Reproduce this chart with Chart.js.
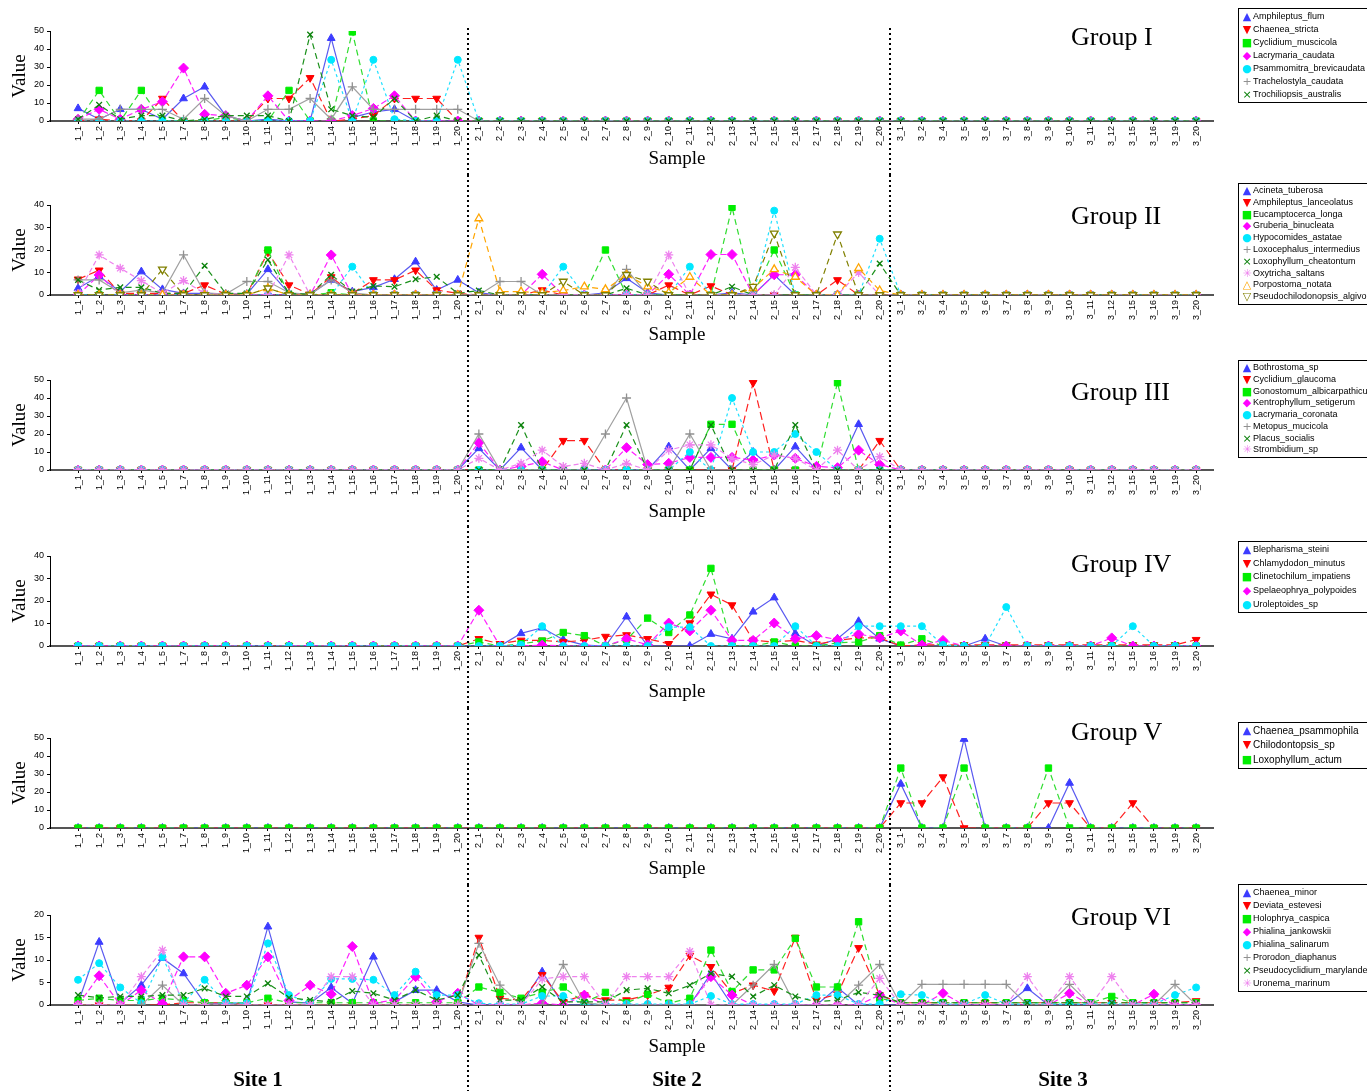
<!DOCTYPE html>
<html>
<head>
<meta charset="utf-8">
<script src="https://cdn.jsdelivr.net/npm/chart.js@4.4.1/dist/chart.umd.min.js"></script>
<style>
  body { margin: 0; background: #fff; }
  #wrap { position: relative; width: 1367px; height: 1091px; overflow: hidden; background: #fff; }
  #wrap canvas { position: absolute; left: 0; }
  .grp { position: absolute; left: 1071px; font: 26px "Liberation Serif", "Times New Roman", serif; line-height: 1; white-space: nowrap; }
  .sample { position: absolute; left: 577px; width: 200px; text-align: center; font: 19px "Liberation Serif", serif; line-height: 1; }
  .site { position: absolute; top: 1069px; width: 200px; text-align: center; font: bold 21px "Liberation Serif", serif; line-height: 1; }
  .legend { position: absolute; left: 1238px; width: 150px; border: 1px solid #000; padding: 1px 0 1px 2px; font: 9px "Liberation Sans", Arial, sans-serif; background: #fff; }
  .legend div { white-space: nowrap; overflow: hidden; }
  .legend span { display: inline-block; width: 12px; text-align: center; font-family: "DejaVu Sans", sans-serif; font-size: 11px; vertical-align: top; }
</style>
</head>
<body>
<div id="wrap"></div>
<script>
// sample labels
const site1Labels = ['1_1','1_2','1_3','1_4','1_5','1_7','1_8','1_9','1_10','1_11','1_12','1_13','1_14','1_15','1_16','1_17','1_18','1_19','1_20'];
const site2Labels = ['2_1','2_2','2_3','2_4','2_5','2_6','2_7','2_8','2_9','2_10','2_11','2_12','2_13','2_14','2_15','2_16','2_17','2_18','2_19','2_20'];
const site3Labels = ['3_1','3_2','3_4','3_5','3_6','3_7','3_8','3_9','3_10','3_11','3_12','3_15','3_16','3_19','3_20'];
const sampleLabels = site1Labels.concat(site2Labels, site3Labels);

const groupNames = ['Group I', 'Group II', 'Group III', 'Group IV', 'Group V', 'Group VI'];
const siteNames = ['Site 1', 'Site 2', 'Site 3'];

// Group I
const g1Names = ['Amphileptus_flum','Chaenea_stricta','Cyclidium_muscicola','Lacrymaria_caudata','Psammomitra_brevicaudata','Trachelostyla_caudata','Trochiliopsis_australis'];
const g1Amphileptus = [7,1,6.5,6.5,1,12.5,19,3,0,1,0,0,46,2,5,6.5,0,0,0, 0,0,0,0,0,0,0,0,0,0,0,0,0,0,0,0,0,0,0,0, 0,0,0,0,0,0,0,0,0,0,0,0,0,0,0];
const g1Chaenea = [0,1,0,0,12.5,0,0,0,0,12.5,12.5,24,0,1,3,12.5,12.5,12.5,0, 0,0,0,0,0,0,0,0,0,0,0,0,0,0,0,0,0,0,0,0, 0,0,0,0,0,0,0,0,0,0,0,0,0,0,0];
const g1Cyclidium = [0,17,0,17,0,0,0,2,0,0,17,0,0,49.5,0,0,0,0,0, 0,0,0,0,0,0,0,0,0,0,0,0,0,0,0,0,0,0,0,0, 0,0,0,0,0,0,0,0,0,0,0,0,0,0,0];
const g1Lacrymaria = [1,6.5,1,6.5,10.7,29.4,3.7,3,0,14,0,0,0,3,7,14,0,0,0, 0,0,0,0,0,0,0,0,0,0,0,0,0,0,0,0,0,0,0,0, 0,0,0,0,0,0,0,0,0,0,0,0,0,0,0];
const g1Psammomitra = [0,0,0,0,0,0,0,0,0,0,0,0,34,0,34,1,0,0,34, 0,0,0,0,0,0,0,0,0,0,0,0,0,0,0,0,0,0,0,0, 0,0,0,0,0,0,0,0,0,0,0,0,0,0,0];
const g1Trachelostyla = [1,1,6.5,6.5,6.5,1,12.5,3,0,6.5,6.5,12.5,1,19,6.5,6.5,6.5,6.5,6.5, 0,0,0,0,0,0,0,0,0,0,0,0,0,0,0,0,0,0,0,0, 0,0,0,0,0,0,0,0,0,0,0,0,0,0,0];
const g1Trochiliopsis = [1,9,1,3,3,0,1,3,3,3,0,48,6.5,3,2,12.5,0,3,0, 0,0,0,0,0,0,0,0,0,0,0,0,0,0,0,0,0,0,0,0, 0,0,0,0,0,0,0,0,0,0,0,0,0,0,0];

// Group II
const g2Names = ['Acineta_tuberosa','Amphileptus_lanceolatus','Eucamptocerca_longa','Gruberia_binucleata','Hypocomides_astatae','Loxocephalus_intermedius','Loxophyllum_cheatontum','Oxytricha_saltans','Porpostoma_notata','Pseudochilodonopsis_algivora'];
const g2Acineta = [3,8.4,1.5,10.4,2.5,0.7,0.7,0.4,0.4,11.4,0.7,0.3,6.7,1.5,3.4,7,14.8,2.2,6.7, 1,0,0,0,0,0,1,7.4,1,0,0,0,1,0,9,0,0,0,0,0, 0,0,0,0,0,0,0,0,0,0,0,0,0,0,0];
const g2Amphileptus = [7,11,0.7,0.7,0.7,0.7,4.4,0.3,0.3,19,4.4,0.3,8,0.7,6.7,6.7,11,2.2,0.7, 0,0,0,2.2,0,0,0,0,0,4.4,0,4,0,0,0,0,0,6.7,0,0, 0,0,0,0,0,0,0,0,0,0,0,0,0,0,0];
const g2Eucamptocerca = [0,0,0,0,0,0,0,0,0,20,0,0,1,0,0,0,0,0,0, 0,0,0,0,0,0,20,0,0,0,0,0,39,0,20,0,0,0,0,0, 0,0,0,0,0,0,0,0,0,0,0,0,0,0,0];
const g2Gruberia = [0,8.9,0,0,0,0,0,0,0,0,0,0,17.8,0,0,0,0,0,0, 0,0,0,9.2,0,0,0,0,0,9.2,0,18,18,0,9,9,0,0,0,0, 0,0,0,0,0,0,0,0,0,0,0,0,0,0,0];
const g2Hypocomides = [0,0,0,0,0,0,0,0,0,0,0,0,0,12.6,0,0,0,0,0, 0,0,0,0,12.6,0,0,0,0,0,12.6,0,0,0,37.5,0,0,0,0,25, 0,0,0,0,0,0,0,0,0,0,0,0,0,0,0];
const g2Loxocephalus = [6.7,6.7,1,2.2,1,17.8,1,0.4,6,6,1,0.3,6.7,1,0,0,0,0,0, 0,6,6,0,0,0,0,11.4,0,0,0,0,0,0,0,0,0,0,0,0, 0,0,0,0,0,0,0,0,0,0,0,0,0,0,0];
const g2Loxophyllum = [6.7,2.2,3.4,3.4,0.7,0.7,13,0.7,0.7,15.6,0.7,0.3,9,1.5,4,3.7,7,8.1,0.7, 2,0,0,0,0,0,0,3,0,0,0,0,3.7,0,0,0,0,0,0,14, 0,0,0,0,0,0,0,0,0,0,0,0,0,0,0];
const g2Oxytricha = [0.7,17.8,11.9,6.4,0.7,6.4,0.7,0,0,0,17.8,0,0,0,0,0,0,0,0, 0,0,0,0,0,0,0,0,0,17.8,0,0,0,0,0,12.3,0,0,10,0, 0,0,0,0,0,0,0,0,0,0,0,0,0,0,0];
const g2Porpostoma = [0,0,0,0,0,0,0,0,0,3,0,0,0,0,0,0,0,0,0, 34,1.5,1.5,1,2,3.7,2.5,9,3.7,1,8,0,0,3,11.4,8,0,0,11.9,2, 0,0,0,0,0,0,0,0,0,0,0,0,0,0,0];
const g2Pseudochilodonopsis = [0,0,0,0,11.4,0,0,0,0,3,0,0,0,0,0,0,0,0,0, 0,0,0,0,6,0,0,9,6,0,0,0,0,3.7,27.4,0,0,27,0,0, 0,0,0,0,0,0,0,0,0,0,0,0,0,0,0];

// Group III
const g3Names = ['Bothrostoma_sp','Cyclidium_glaucoma','Gonostomum_albicarpathicum','Kentrophyllum_setigerum','Lacrymaria_coronata','Metopus_mucicola','Placus_socialis','Strombidium_sp'];
const g3Bothrostoma = [0,0,0,0,0,0,0,0,0,0,0,0,0,0,0,0,0,0,0, 12,0,12.4,0,0,0,0,0,0,13,0,12,0,10,0,13,0,0,25.4,0, 0,0,0,0,0,0,0,0,0,0,0,0,0,0,0];
const g3Cyclidium = [0,0,0,0,0,0,0,0,0,0,0,0,0,0,0,0,0,0,0, 0,0,0,0,16.3,16.3,0,0,0,0,0,0,0,48.5,0,0,0,0,0,16.3, 0,0,0,0,0,0,0,0,0,0,0,0,0,0,0];
const g3Gonostomum = [0,0,0,0,0,0,0,0,0,0,0,0,0,0,0,0,0,0,0, 0,0,0,0,0,0,0,0,0,0,0,25.4,25.4,0,0,0,0,48.5,0,0, 0,0,0,0,0,0,0,0,0,0,0,0,0,0,0];
const g3Kentrophyllum = [0,0,0,0,0,0,0,0,0,0,0,0,0,0,0,0,0,0,0, 15.2,0,2,4.6,0,0,0,12.4,3,3.7,7,7,7,5.5,8.3,6.5,2,1.3,11,3, 0,0,0,0,0,0,0,0,0,0,0,0,0,0,0];
const g3Lacrymaria = [0,0,0,0,0,0,0,0,0,0,0,0,0,0,0,0,0,0,0, 0,0,0,0,0,0,0,0,0,0,10,0,40,10,10,20,10,0,0,0, 0,0,0,0,0,0,0,0,0,0,0,0,0,0,0];
const g3Metopus = [0,0,0,0,0,0,0,0,0,0,0,0,0,0,0,0,0,0,0, 20,0,0,0,0,0,20,40,0,0,20,0,0,0,0,0,0,0,0,0, 0,0,0,0,0,0,0,0,0,0,0,0,0,0,0];
const g3Placus = [0,0,0,0,0,0,0,0,0,0,0,0,0,0,0,0,0,0,0, 0,0,25,0,0,0,0,25,0,0,0,25,0,0,0,25,0,0,0,0, 0,0,0,0,0,0,0,0,0,0,0,0,0,0,0];
const g3Strombidium = [0,0,0,0,0,0,0,0,0,0,0,0,0,0,0,0,0,0,0, 6.5,0,3.7,11,2,3.7,0,3.7,0,11,14,14,6.5,3,8.3,6.5,0,11,0,7.4, 0,0,0,0,0,0,0,0,0,0,0,0,0,0,0];

// Group IV
const g4Names = ['Blepharisma_steini','Chlamydodon_minutus','Clinetochilum_impatiens','Spelaeophrya_polypoides','Uroleptoides_sp'];
const g4Blepharisma = [0,0,0,0,0,0,0,0,0,0,0,0,0,0,0,0,0,0,0, 0,0,5.6,8.1,2.8,0.4,0,13,0,0,0,5.3,3.2,15.2,21.5,5.6,0,3.2,11,3.2, 0,0,0,0,3.2,0,0,0,0,0,0,0,0,0,0];
const g4Chlamydodon = [0,0,0,0,0,0,0,0,0,0,0,0,0,0,0,0,0,0,0, 3.2,1,2.5,2.5,1.8,2.5,4.2,4.9,3.2,1,10.2,23,18.2,2.5,1.8,2.5,0.8,2.5,3.6,3.6, 0,0.5,0.5,0.5,0.5,0.5,0.5,0.5,0.5,0.5,0.5,0.5,0.5,0.5,2.8];
const g4Clinetochilum = [0,0,0,0,0,0,0,0,0,0,0,0,0,0,0,0,0,0,0, 1.8,0,1,2.2,6,4.6,0,2.8,12.4,6,13.8,34.5,0,0,1.8,0,0,1.4,1.8,4.6, 0.4,3.2,0,0,0,0,0,0,0,0,0,0,0,0,0];
const g4Spelaeophrya = [0,0,0,0,0,0,0,0,0,0,0,0,0,0,0,0,0,0,0, 15.9,0,0,0.4,0,0,0,3.2,0.5,10.2,6.7,15.9,2.5,2.5,10.2,3.2,4.6,2.8,5.3,3.6, 6.7,0.4,2.5,0,0,0,0,0,0,0,3.6,0,0,0,0];
const g4Uroleptoides = [0,0,0,0,0,0,0,0,0,0,0,0,0,0,0,0,0,0,0, 0,0,0.5,8.8,0,0,0,0,0,8.4,8.4,0,0,0,0,8.8,0,0,8.8,8.8, 8.8,8.8,0.5,0,0,17.3,0,0,0,0,0,8.8,0,0,0];

// Group V
const g5Names = ['Chaenea_psammophila','Chilodontopsis_sp','Loxophyllum_actum'];
const g5Chaenea = [0,0,0,0,0,0,0,0,0,0,0,0,0,0,0,0,0,0,0, 0,0,0,0,0,0,0,0,0,0,0,0,0,0,0,0,0,0,0,0, 24.5,0,0,49.4,0,0,0,0,25,0,0,0,0,0,0];
const g5Chilodontopsis = [0,0,0,0,0,0,0,0,0,0,0,0,0,0,0,0,0,0,0, 0,0,0,0,0,0,0,0,0,0,0,0,0,0,0,0,0,0,0,0, 13.9,13.9,28.3,0,0,0,0,13.9,13.9,0,0,13.9,0,0,0];
const g5Loxophyllum = [0,0,0,0,0,0,0,0,0,0,0,0,0,0,0,0,0,0,0, 0,0,0,0,0,0,0,0,0,0,0,0,0,0,0,0,0,0,0,0, 33.3,0,0,33.3,0,0,0,33.3,0,0,0,0,0,0,0];

// Group VI
const g6Names = ['Chaenea_minor','Deviata_estevesi','Holophrya_caspica','Phialina_jankowskii','Phialina_salinarum','Prorodon_diaphanus','Pseudocyclidium_marylandensis','Uronema_marinum'];
const g6Chaenea = [0.4,14,0.4,4.4,10.4,7,0.4,0.4,0.4,17.4,0.7,0.4,3.9,0.4,10.7,0.7,3.3,3.3,0.7, 0,0,0,7.4,0,0,0,0,0,0,0,7,0,0,0,0,0,3.9,0,0, 0,0,0,0,0,0,3.7,0,0,0,0,0,0,0,0];
const g6Deviata = [0,0,0,0,0,0.5,0.5,0.5,0,0,0,0,0,0,0,0,0,0,0, 15,1.5,1.1,6.7,0.7,2.2,1.1,1.1,2.2,3.9,11,8.5,2.6,4.4,3.1,15,1.1,2.4,12.7,2.2, 0.5,0.5,0.5,0.5,0.5,0.5,0.5,0.5,0.5,0.5,0.5,0.5,0.5,0.5,0.9];
const g6Holophrya = [1,1.5,1,1,1.5,1,0.5,0.5,0.5,1.5,0.5,0.5,0.5,0.5,0.5,0.5,0.5,0.5,0.5, 4,2.8,1.5,2.8,4,0.5,2.8,0.5,2.4,0.4,1.5,12.2,3,7.8,7.8,14.8,4,4,18.5,1.5, 0.5,0.5,0.5,0.5,0.5,0.5,0.5,0.5,0.5,0.5,1.9,0.5,0.5,0.5,0.5];
const g6PhialinaJ = [0,6.5,0,3.3,0.3,10.7,10.7,2.6,4.4,10.7,1,4.4,2.4,13,0.4,1.1,6.3,0.7,2.6, 0,0,0,0.4,0,2.2,0,0,0,0,0,6.3,2.2,0,0,0,0,0,0,2.2, 0,0,2.6,0,0,0,0,0,2.6,0,0,0,2.4,0,0];
const g6PhialinaS = [5.6,9.3,3.9,0.4,10.7,0.4,5.6,0.4,0.4,13.7,2.2,0.4,5.8,5.8,5.6,2.2,7.4,2.2,2.2, 0.4,0.2,0.2,2,2,0.2,0.2,0.2,0.2,0.2,0.2,2,0.2,0.2,0.2,0.2,2.2,2.2,0.2,0.2, 2.4,2.2,0.2,0.2,2.2,0.2,0.2,0.2,0.2,0.2,0.2,0.2,0.2,2.2,3.9];
const g6Prorodon = [0,0,0,0,4.4,0,0,0,0,0,0,0,0,0,0,0,0,0,0, 13.7,4.4,0,0,9,0.5,0,0,0,0,0,0,0,4.4,9,0,0,0,4.4,9, 0,4.6,4.6,4.6,4.6,4.6,0,0,4.6,0,0,0,0,4.6,0];
const g6Pseudocyclidium = [2.2,1.6,1.9,1.9,2.2,2.2,3.7,1.9,1.9,4.8,1.6,1.1,0.7,3.1,2.6,1.1,3.3,1.1,2.2, 11.1,1.1,1.1,4,0.7,0.7,0.7,3.3,3.7,2.6,4.4,7,6.3,1.9,4.4,1.9,0.7,1.1,2.8,2.2, 0.5,0.5,0.5,0.5,0.5,0.5,0.5,0.5,0.5,0.5,0.5,0.5,0.5,0.5,0.5];
const g6Uronema = [0,0,0,6.3,12.2,0,0,0,0,0,0,0,6.3,6.3,0,0,0,0,0, 0,0,0,5.8,6.3,6.3,0,6.3,6.3,6.3,11.9,0,0,0,0,0,0,0,0,5.9, 0,0,0,0,0,0,6.3,0,6.3,0,6.3,0,0,0,0];

// marker / line styles, in legend order
const styles = [
  { color: '#3c3cff', line: '#5a5af0', point: 'triangle', rot: 0, r: 4.5, dash: [], glyph: '\u25B2' },
  { color: '#ff0000', line: '#ff2020', point: 'triangle', rot: 180, r: 4.5, dash: [8, 4], glyph: '\u25BC' },
  { color: '#00ee00', line: '#30dd30', point: 'rect', rot: 0, r: 4.5, dash: [6, 4], glyph: '\u25A0' },
  { color: '#ff00ff', line: '#ff20ff', point: 'rectRot', rot: 0, r: 5, dash: [6, 3], glyph: '\u25C6' },
  { color: '#00e8ff', line: '#20e0ff', point: 'circle', rot: 0, r: 3.5, dash: [3, 3], glyph: '\u25CF' },
  { color: '#909090', line: '#a0a0a0', point: 'cross', rot: 0, r: 4.5, dash: [], glyph: '+' },
  { color: '#0a800a', line: '#1a901a', point: 'crossRot', rot: 0, r: 4, dash: [6, 4], glyph: '\u00D7' },
  { color: '#ee82ee', line: '#ee82ee', point: 'star', rot: 0, r: 4.5, dash: [5, 3], glyph: '\u2733' },
  { color: '#ffa500', line: '#ffa500', point: 'triangle', rot: 0, r: 4.5, dash: [6, 4], glyph: '\u25B3', open: true },
  { color: '#808000', line: '#808000', point: 'triangle', rot: 180, r: 4.5, dash: [6, 4], glyph: '\u25BD', open: true }
];

const panels = [
  { names: g1Names, values: [g1Amphileptus, g1Chaenea, g1Cyclidium, g1Lacrymaria, g1Psammomitra, g1Trachelostyla, g1Trochiliopsis],
    top: 1, height: 174, yMax: 50, yStep: 10, sampleY: 148, groupY: 24, legendTop: 8, rowH: 13 },
  { names: g2Names, values: [g2Acineta, g2Amphileptus, g2Eucamptocerca, g2Gruberia, g2Hypocomides, g2Loxocephalus, g2Loxophyllum, g2Oxytricha, g2Porpostoma, g2Pseudochilodonopsis],
    top: 175, height: 175, yMax: 40, yStep: 10, sampleY: 324, groupY: 203, legendTop: 183, rowH: 11.8 },
  { names: g3Names, values: [g3Bothrostoma, g3Cyclidium, g3Gonostomum, g3Kentrophyllum, g3Lacrymaria, g3Metopus, g3Placus, g3Strombidium],
    top: 350, height: 176, yMax: 50, yStep: 10, sampleY: 501, groupY: 379, legendTop: 360, rowH: 11.75 },
  { names: g4Names, values: [g4Blepharisma, g4Chlamydodon, g4Clinetochilum, g4Spelaeophrya, g4Uroleptoides],
    top: 526, height: 182, yMax: 40, yStep: 10, sampleY: 681, groupY: 551, legendTop: 541, rowH: 13.7 },
  { names: g5Names, values: [g5Chaenea, g5Chilodontopsis, g5Loxophyllum],
    top: 708, height: 177, yMax: 50, yStep: 10, sampleY: 858, groupY: 719, legendTop: 722, rowH: 14.3 },
  { names: g6Names, values: [g6Chaenea, g6Deviata, g6Holophrya, g6PhialinaJ, g6PhialinaS, g6Prorodon, g6Pseudocyclidium, g6Uronema],
    top: 885, height: 206, yMax: 20, yStep: 5, sampleY: 1036, groupY: 904, legendTop: 884, rowH: 13 }
];

const wrap = document.getElementById('wrap');

// dotted site dividers between 1_20 / 2_1 and 2_20 / 3_1
const siteDivider = {
  id: 'siteDivider',
  afterDatasetsDraw(chart, args, opts) {
    const { ctx } = chart;
    const x = chart.scales.x;
    ctx.save();
    ctx.strokeStyle = '#000';
    ctx.lineWidth = 2;
    ctx.setLineDash([2, 3]);
    [18.5, 38.5].forEach(v => {
      const px = Math.round(x.getPixelForValue(v));
      ctx.beginPath();
      ctx.moveTo(px, opts.top);
      ctx.lineTo(px, chart.height);
      ctx.stroke();
    });
    ctx.restore();
  }
};

panels.forEach((p, k) => {
  const canvas = document.createElement('canvas');
  canvas.width = 1230;
  canvas.height = p.height;
  canvas.style.top = p.top + 'px';
  wrap.appendChild(canvas);

  const datasets = p.values.map((vals, i) => {
    const st = styles[i];
    return {
      label: p.names[i],
      data: vals.map((v, j) => ({ x: j, y: v })),
      borderColor: st.line,
      borderWidth: 1.2,
      borderDash: st.dash,
      pointStyle: st.point,
      pointRotation: st.rot,
      pointRadius: st.r,
      pointBorderColor: st.color,
      pointBackgroundColor: st.open ? '#fff' : st.color,
      pointBorderWidth: st.open || ['cross', 'crossRot', 'star'].includes(st.point) ? 1.3 : 1,
      fill: false,
      tension: 0,
      order: -i
    };
  });

  new Chart(canvas, {
    type: 'line',
    data: { datasets },
    options: {
      responsive: false,
      animation: false,
      devicePixelRatio: 1,
      layout: { padding: { top: 30, bottom: p.height - 120 - 28, left: 0, right: 17 } },
      plugins: {
        legend: { display: false },
        tooltip: { enabled: false },
        siteDivider: { top: k === 0 ? 27 : 0 }
      },
      scales: {
        x: {
          type: 'linear',
          min: -1.33,
          max: 53.8,
          afterBuildTicks: axis => { axis.ticks = sampleLabels.map((_, i) => ({ value: i })); },
          afterFit: axis => { axis.height = 28; },
          ticks: {
            autoSkip: false,
            maxRotation: 90,
            minRotation: 90,
            padding: 2,
            color: '#000',
            font: { size: 9, family: 'Liberation Sans' },
            callback: v => sampleLabels[v]
          },
          grid: { drawOnChartArea: false, drawTicks: true, tickLength: 3, color: '#000' },
          border: { display: true, color: '#555', width: 2 }
        },
        y: {
          min: 0,
          max: p.yMax,
          afterFit: axis => { axis.width = 50; },
          ticks: { stepSize: p.yStep, padding: 3, color: '#000', font: { size: 9, family: 'Liberation Sans' } },
          grid: { drawOnChartArea: false, tickLength: 3, color: '#000' },
          border: { display: true, color: '#000', width: 1 },
          title: { display: true, text: 'Value', color: '#000', font: { size: 19, family: 'Liberation Serif' }, padding: { top: 9, bottom: 0 } }
        }
      }
    },
    plugins: [siteDivider]
  });

  // group label
  const g = document.createElement('div');
  g.className = 'grp';
  g.style.top = p.groupY + 'px';
  g.textContent = groupNames[k];
  wrap.appendChild(g);

  // x title
  const s = document.createElement('div');
  s.className = 'sample';
  s.style.top = p.sampleY + 'px';
  s.textContent = 'Sample';
  wrap.appendChild(s);

  // legend box
  const lg = document.createElement('div');
  lg.className = 'legend';
  lg.style.top = p.legendTop + 'px';
  if (k === 4) lg.style.fontSize = '10px';
  p.names.forEach((name, i) => {
    const row = document.createElement('div');
    row.style.height = p.rowH + 'px';
    row.style.lineHeight = p.rowH + 'px';
    const mk = document.createElement('span');
    mk.style.color = styles[i].color;
    mk.style.lineHeight = p.rowH + 'px';
    mk.textContent = styles[i].glyph;
    row.appendChild(mk);
    row.appendChild(document.createTextNode(name));
    lg.appendChild(row);
  });
  wrap.appendChild(lg);
});

// site labels along the bottom
[258, 677, 1063].forEach((cx, i) => {
  const d = document.createElement('div');
  d.className = 'site';
  d.style.left = (cx - 100) + 'px';
  d.textContent = siteNames[i];
  wrap.appendChild(d);
});
</script>
</body>
</html>
